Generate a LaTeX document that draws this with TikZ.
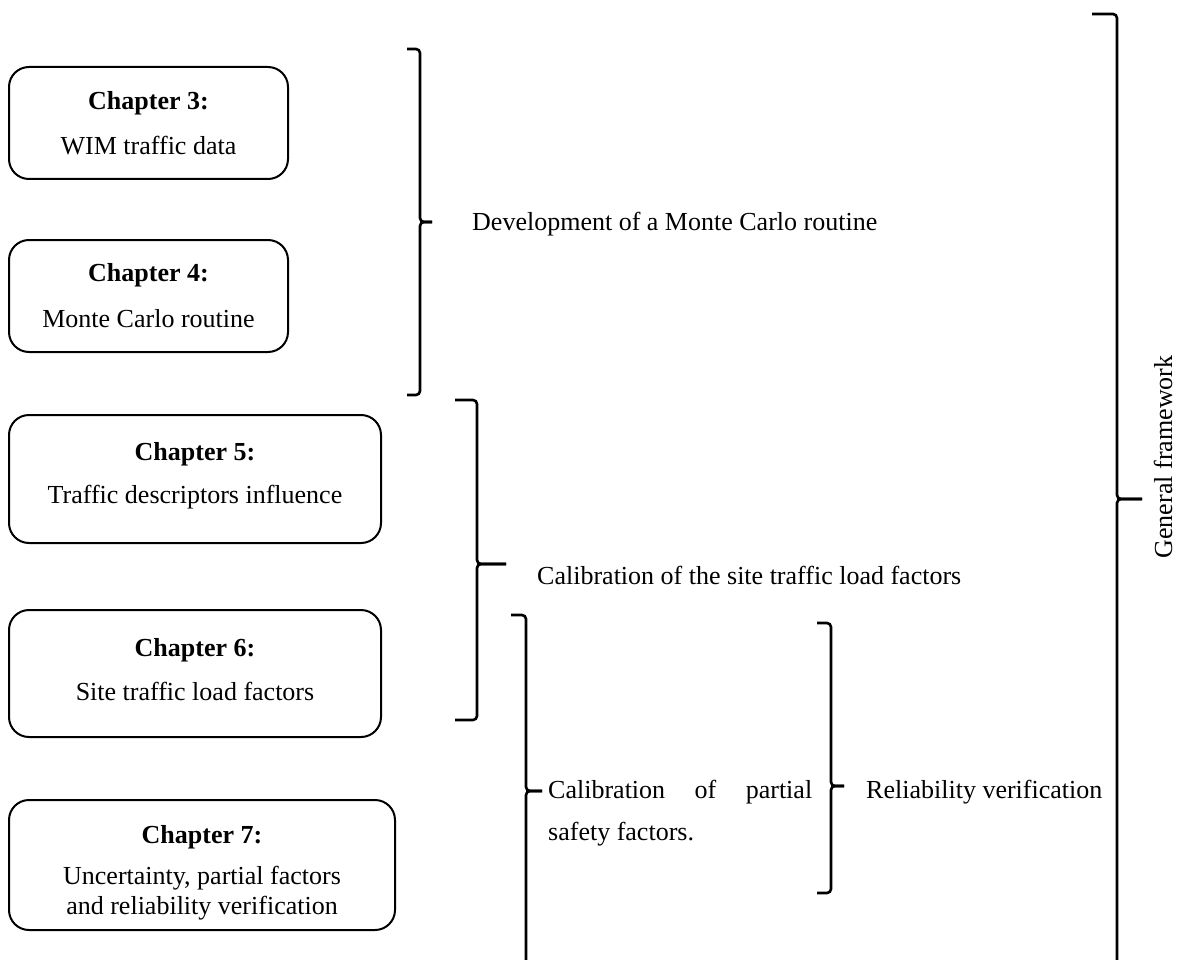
\documentclass[tikz,border=0pt]{standalone}
\usepackage{fontspec}
\setmainfont{Liberation Serif}
\begin{document}
\begin{tikzpicture}[x=1pt,y=-1pt,
  chbox/.style={draw=black, line width=2pt, rounded corners=20pt, inner sep=0pt},
  txt/.style={font=\fontsize{26}{30}\selectfont, inner sep=0pt, anchor=base},
  ttl/.style={txt, font=\fontsize{26}{30}\selectfont\bfseries},
  brc/.style={line width=2.6pt, rounded corners=4pt, line cap=butt}]
\useasboundingbox (0,0) rectangle (1185,960);
\fill[white] (0,0) rectangle (1185,960);

% chapter boxes
\node[chbox, minimum width=279pt, minimum height=112pt] (c3) at (148.5,123) {};
\node[chbox, minimum width=279pt, minimum height=112pt] (c4) at (148.5,296) {};
\node[chbox, minimum width=372pt, minimum height=128pt] (c5) at (195,479) {};
\node[chbox, minimum width=372pt, minimum height=127pt] (c6) at (195,673.5) {};
\node[chbox, minimum width=386pt, minimum height=130pt] (c7) at (202,865) {};

\node[ttl] (t3) at (148.5,110) {Chapter 3:};
\node[txt] (s3) at (148.5,155) {WIM traffic data};
\node[ttl] (t4) at (148.5,281) {Chapter 4:};
\node[txt] (s4) at (148.5,327) {Monte Carlo routine};
\node[ttl] (t5) at (195,460) {Chapter 5:};
\node[txt] (s5) at (195,503) {Traffic descriptors influence};
\node[ttl] (t6) at (195,656) {Chapter 6:};
\node[txt] (s6) at (195,700) {Site traffic load factors};
\node[ttl] (t7) at (202,843) {Chapter 7:};
\node[txt] (s7a) at (202,884) {Uncertainty, partial factors};
\node[txt] (s7b) at (202,914) {and reliability verification};

% braces
\newcommand\mybrace[7]{%
  \coordinate (#1t) at (#2-#6,#3);
  \coordinate (#1m) at (#2,#4);
  \coordinate (#1k) at (#2+#7,#4);
  \coordinate (#1b) at (#2,#5);
  \draw[brc] (#1t) -- (#2,#3) -- (#1m) -- (#1k);
  \draw[brc] (#1k) -- (#1m) -- (#1b) -- ++(-#6,0);
}
\newcommand\mybraceopen[7]{%
  \coordinate (#1t) at (#2-#6,#3);
  \coordinate (#1m) at (#2,#4);
  \coordinate (#1k) at (#2+#7,#4);
  \coordinate (#1b) at (#2,#5);
  \draw[brc] (#1t) -- (#2,#3) -- (#1m) -- (#1k);
  \draw[brc] (#1k) -- (#1m) -- (#1b);
}
\mybrace{ba}{420}{49}{222}{395}{13}{12}
\mybrace{bb}{477}{400}{564}{720}{22}{29}
\mybraceopen{bc}{526}{615}{791}{962}{15}{16}
\mybrace{bd}{831}{623}{786}{893}{14}{13}
\mybraceopen{be}{1117}{14}{499}{962}{25}{25}

% labels
\node[txt, anchor=base west] (l1) at (472,230) {Development of a Monte Carlo routine};
\node[txt, anchor=base west] (l2) at (537,584) {Calibration of the site traffic load factors};
\node[txt, anchor=base west] (l3a) at (548,798) {\makebox[264pt][s]{Calibration\hfill of\hfill partial}};
\node[txt, anchor=base west] (l3b) at (548,840) {safety factors.};
\node[txt, anchor=base west] (l4) at (866,798) {Reliability verification};
\node[font=\fontsize{26}{30}\selectfont, inner sep=0pt, rotate=90] (l5) at (1163,457) {General framework};
\end{tikzpicture}
\end{document}
